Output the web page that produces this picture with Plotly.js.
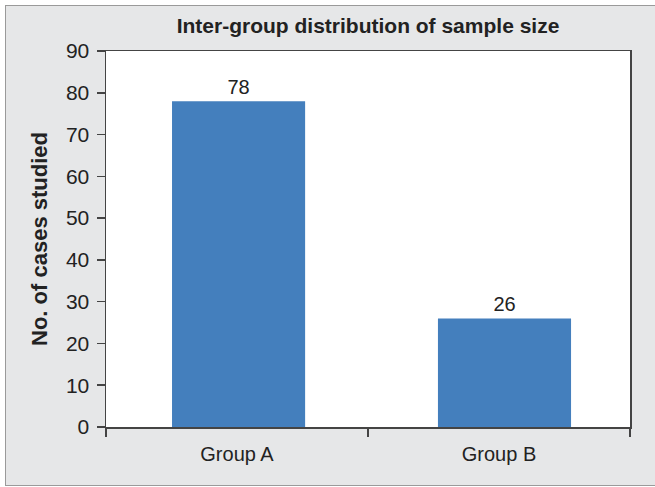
<!DOCTYPE html>
<html>
<head>
<meta charset="utf-8">
<script src="https://cdn.plot.ly/plotly-3.0.1.min.js"></script>
<style>
  html, body { margin: 0; padding: 0; background: #ffffff; }
  #frame { position: absolute; left: 5px; top: 5px; width: 660px; height: 479px;
           background: #e6e7e8; border-top: 1.5px solid #9a9a9a; border-left: 1.5px solid #9a9a9a;
           border-bottom: 1.5px solid #9a9a9a; }
  #chart { position: absolute; left: 0; top: 0; width: 655px; height: 487px; }
</style>
</head>
<body>
<div id="frame"></div>
<div id="chart"></div>
<script>
const categories = ["Group A", "Group B"];
const cases = [78, 26];
const yTicks = [0, 10, 20, 30, 40, 50, 60, 70, 80, 90];

const trace = {
  type: "bar",
  x: categories,
  y: cases,
  width: 0.508,
  offset: [-0.248, -0.233],
  text: cases.map(String),
  textposition: "outside",
  cliponaxis: false,
  textfont: { family: "Liberation Sans, Arial, sans-serif", size: 20, color: "#222222" },
  marker: { color: "#447fbd", line: { width: 0 } },
  hoverinfo: "none"
};

const layout = {
  width: 655,
  height: 487,
  margin: { l: 106, r: 25, t: 51, b: 60 },
  paper_bgcolor: "rgba(0,0,0,0)",
  plot_bgcolor: "#ffffff",
  showlegend: false,
  font: { family: "Liberation Sans, Arial, sans-serif", color: "#222222", size: 20 },
  title: {
    text: "<b>Inter-group distribution of sample size</b>",
    x: 0.5, xref: "paper", xanchor: "center",
    y: 30, yref: "container", yanchor: "middle",
    font: { family: "Liberation Sans, Arial, sans-serif", size: 21, color: "#222222" }
  },
  xaxis: {
    type: "category",
    range: [-0.5, 1.5],
    showgrid: false,
    showline: true,
    linecolor: "#444444",
    linewidth: 1.5,
    mirror: true,
    ticks: "outside",
    tickson: "boundaries",
    ticklen: 8,
    tickcolor: "#444444",
    tickwidth: 1.5,
    ticklabelstandoff: 8,
    tickfont: { size: 20, color: "#222222" },
    zeroline: false
  },
  yaxis: {
    range: [0, 90],
    tickvals: yTicks,
    ticktext: yTicks.map(String),
    showgrid: false,
    showline: true,
    linecolor: "#444444",
    linewidth: 1.5,
    mirror: true,
    ticks: "outside",
    ticklen: 8,
    tickcolor: "#444444",
    tickwidth: 1.5,
    ticklabelstandoff: 3,
    tickfont: { size: 21, color: "#222222" },
    zeroline: false,
    title: {
      text: "<b>No. of cases studied</b>",
      font: { size: 22, color: "#222222" },
      standoff: 12
    }
  }
};

Plotly.newPlot("chart", [trace], layout, { displayModeBar: false, staticPlot: true });
</script>
</body>
</html>
